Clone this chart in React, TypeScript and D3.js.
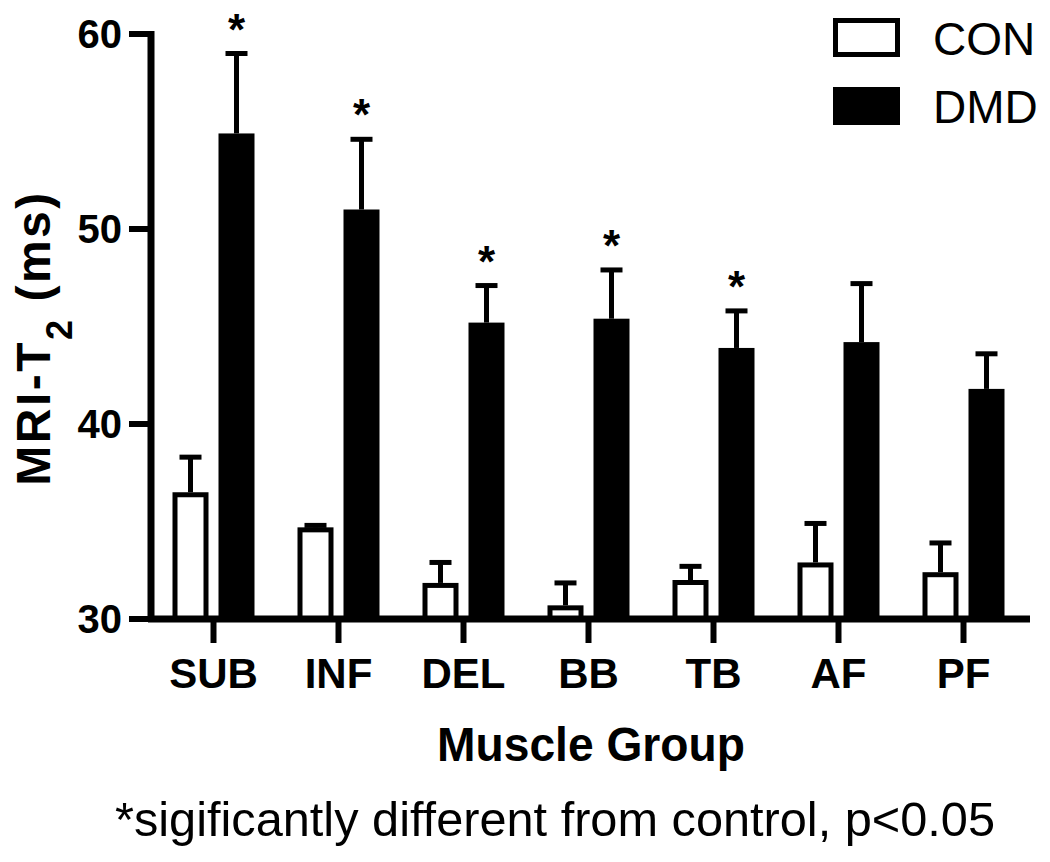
import React from "react";
import * as d3 from "d3";

const categories = ["SUB", "INF", "DEL", "BB", "TB", "AF", "PF"];
const conMean = [36.5, 34.7, 31.85, 30.7, 32.0, 32.9, 32.4];
const conSem = [1.8, 0.1, 1.05, 1.15, 0.7, 2.0, 1.5];
const dmdMean = [54.9, 51.0, 45.2, 45.4, 43.9, 44.2, 41.8];
const dmdSem = [4.1, 3.6, 1.9, 2.5, 1.9, 3.0, 1.8];
const significant = [true, true, true, true, true, false, false];
const yTicks = [30, 40, 50, 60];
const legendLabels = ["CON", "DMD"];

const FONT = "'Liberation Sans', Arial, Helvetica, sans-serif";

export default function App() {
  const W = 1050;
  const H = 862;
  const axisX = 151;
  const axisY = 619;
  const y = d3.scaleLinear().domain([30, 60]).range([axisY, 34]);
  const x = d3.scaleBand().domain(categories).range([axisX, 1026]);
  const barW = 36;
  const gap = 5;
  const capW = 22;

  return (
    <svg
      width={W}
      height={H}
      viewBox={`0 0 ${W} ${H}`}
      style={{ position: "absolute", left: 0, top: 0, background: "#fff" }}
      fontFamily={FONT}
    >
      <rect x={0} y={0} width={W} height={H} fill="#fff" />

      {categories.map((c, i) => {
        const cx = (x(c) as number) + x.bandwidth() / 2;
        const wx = cx - gap - barW;
        const bx = cx + gap;
        const cTop = y(conMean[i]);
        const cErr = y(conMean[i] + conSem[i]);
        const dTop = y(dmdMean[i]);
        const dErr = y(dmdMean[i] + dmdSem[i]);
        return (
          <g key={c}>
            <line x1={wx + barW / 2} x2={wx + barW / 2} y1={cTop} y2={cErr} stroke="#000" strokeWidth={5} />
            <line x1={wx + barW / 2 - capW / 2} x2={wx + barW / 2 + capW / 2} y1={cErr} y2={cErr} stroke="#000" strokeWidth={5} />
            <rect x={wx + 2.5} y={cTop + 2.5} width={barW - 5} height={axisY - cTop - 2.5} fill="#fff" stroke="#000" strokeWidth={5} />
            <line x1={bx + barW / 2} x2={bx + barW / 2} y1={dTop} y2={dErr} stroke="#000" strokeWidth={5} />
            <line x1={bx + barW / 2 - capW / 2} x2={bx + barW / 2 + capW / 2} y1={dErr} y2={dErr} stroke="#000" strokeWidth={5} />
            <rect x={bx} y={dTop} width={barW} height={axisY - dTop} fill="#000" />
            {significant[i] && (
              <text x={bx + barW / 2} y={dErr - 9} textAnchor="middle" fontSize={44} fontWeight="bold">
                *
              </text>
            )}
          </g>
        );
      })}

      <line x1={axisX} x2={axisX} y1={y(60) - 3} y2={axisY + 3} stroke="#000" strokeWidth={7} />
      {yTicks.map((t) => (
        <g key={t}>
          <line x1={129} x2={axisX} y1={y(t)} y2={y(t)} stroke="#000" strokeWidth={6} />
          <text x={122} y={y(t)} dy="0.36em" textAnchor="end" fontSize={40} fontWeight="bold">
            {t}
          </text>
        </g>
      ))}

      <line x1={axisX - 3} x2={1030} y1={axisY} y2={axisY} stroke="#000" strokeWidth={7} />
      {categories.map((c) => {
        const cx = (x(c) as number) + x.bandwidth() / 2;
        return (
          <g key={c}>
            <line x1={cx} x2={cx} y1={axisY} y2={643} stroke="#000" strokeWidth={6} />
            <text x={cx} y={688} textAnchor="middle" fontSize={42} fontWeight="bold">
              {c}
            </text>
          </g>
        );
      })}

      <text x={591} y={761} textAnchor="middle" fontSize={48} fontWeight="bold" textLength={308} lengthAdjust="spacingAndGlyphs">
        Muscle Group
      </text>
      <text transform="translate(50,338) rotate(-90)" textAnchor="middle" fontSize={48} fontWeight="bold" letterSpacing={2.5}>
        MRI-T
        <tspan fontSize={36} dy={22}>2</tspan>
        <tspan dy={-22}> (ms)</tspan>
      </text>

      <text x={555} y={836} textAnchor="middle" fontSize={48} textLength={880} lengthAdjust="spacingAndGlyphs">
        *sigificantly different from control, p&lt;0.05
      </text>

      <rect x={835.5} y={20.5} width={62} height={34} fill="#fff" stroke="#000" strokeWidth={5} />
      <rect x={833} y={87} width={67} height={38} fill="#000" />
      <text x={933} y={55} fontSize={46}>{legendLabels[0]}</text>
      <text x={933} y={123} fontSize={46}>{legendLabels[1]}</text>
    </svg>
  );
}
